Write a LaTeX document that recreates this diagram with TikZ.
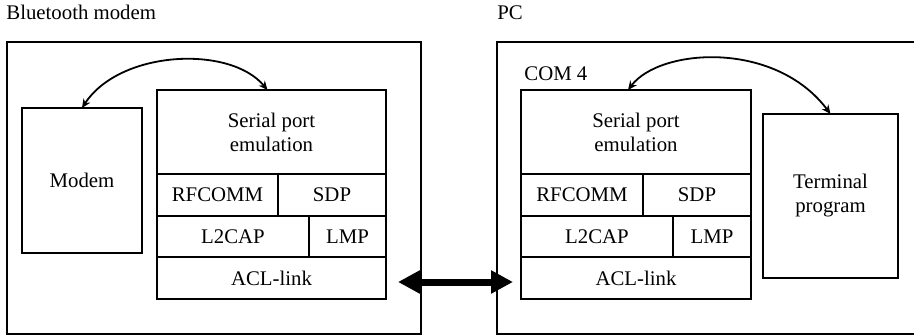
\documentclass[tikz,border=0pt]{standalone}
\usepackage{fontspec}
\setmainfont{Liberation Serif}
\usepackage{tikz}
\usetikzlibrary{arrows.meta}
\tikzset{
  unitbox/.style={
    draw,
    line width=1pt,
    inner sep=0pt,
    outer sep=0pt,
    anchor=north west,
    align=center,
    font=\fontsize{10.4}{12}\selectfont
  },
  cell/.style={
    unitbox,
    minimum height=21pt
  },
  caption/.style={
    inner sep=0pt,
    anchor=base west,
    font=\fontsize{10.4}{12}\selectfont
  },
  dataarrow/.style={
    {Stealth[length=4.5pt,width=4pt]}-{Stealth[length=4.5pt,width=4pt]},
    line width=0.9pt
  },
  linkarrow/.style={
    {Triangle[length=11pt,width=11pt]}-{Triangle[length=11pt,width=11pt]},
    line width=3.5pt,
    shorten <=6pt,
    shorten >=4pt
  }
}
\begin{document}
\begin{tikzpicture}[x=0.5pt,y=-0.5pt]
    \useasboundingbox (0,0) rectangle (914,336);

    % Bluetooth modem side
    \node[caption] (btlabel) at (6,20) {Bluetooth modem};
    \node[unitbox, minimum width=207pt, minimum height=146pt] (btbox) at (7,42) {};
    \node[unitbox, minimum width=60pt, minimum height=72.5pt] (modem) at (22,108) {Modem};
    \node[unitbox, minimum width=114.5pt, minimum height=42pt] (serL) at (157,90) {Serial port\\emulation};
    \node[cell, minimum width=60.5pt] (rfL) at (serL.south west) {RFCOMM};
    \node[cell, minimum width=54pt] (sdpL) at (rfL.north east) {SDP};
    \node[cell, minimum width=76pt, minimum height=20.5pt] (l2L) at (rfL.south west) {L2CAP};
    \node[cell, minimum width=38.5pt, minimum height=20.5pt] (lmpL) at (l2L.north east) {LMP};
    \node[cell, minimum width=114.5pt] (aclL) at (l2L.south west) {ACL-link};

    % PC side
    \node[caption] (pclabel) at (497,20) {PC};
    \node[unitbox, minimum width=212pt, minimum height=146pt] (pcbox) at (497,42) {};
    \node[caption] (comlabel) at (524,81) {COM 4};
    \node[unitbox, minimum width=115pt, minimum height=42pt] (serR) at (521,90) {Serial port\\emulation};
    \node[cell, minimum width=61pt] (rfR) at (serR.south west) {RFCOMM};
    \node[cell, minimum width=54pt] (sdpR) at (rfR.north east) {SDP};
    \node[cell, minimum width=76pt, minimum height=20.5pt] (l2R) at (rfR.south west) {L2CAP};
    \node[cell, minimum width=39pt, minimum height=20.5pt] (lmpR) at (l2R.north east) {LMP};
    \node[cell, minimum width=115pt] (aclR) at (l2R.south west) {ACL-link};
    \node[unitbox, minimum width=67.5pt, minimum height=82pt] (term) at (763,114) {Terminal\\program};

    % connectors
    \draw[dataarrow] (modem.north) .. controls (120,50) and (230,45) .. ([xshift=-2pt]serL.north);
    \draw[dataarrow] ([xshift=-4pt]serR.north) .. controls (660,48) and (775,40) .. (term.north);
    \draw[linkarrow] ([yshift=-2pt]aclL.east) -- ([yshift=-2pt]aclR.west);
\end{tikzpicture}
\end{document}
